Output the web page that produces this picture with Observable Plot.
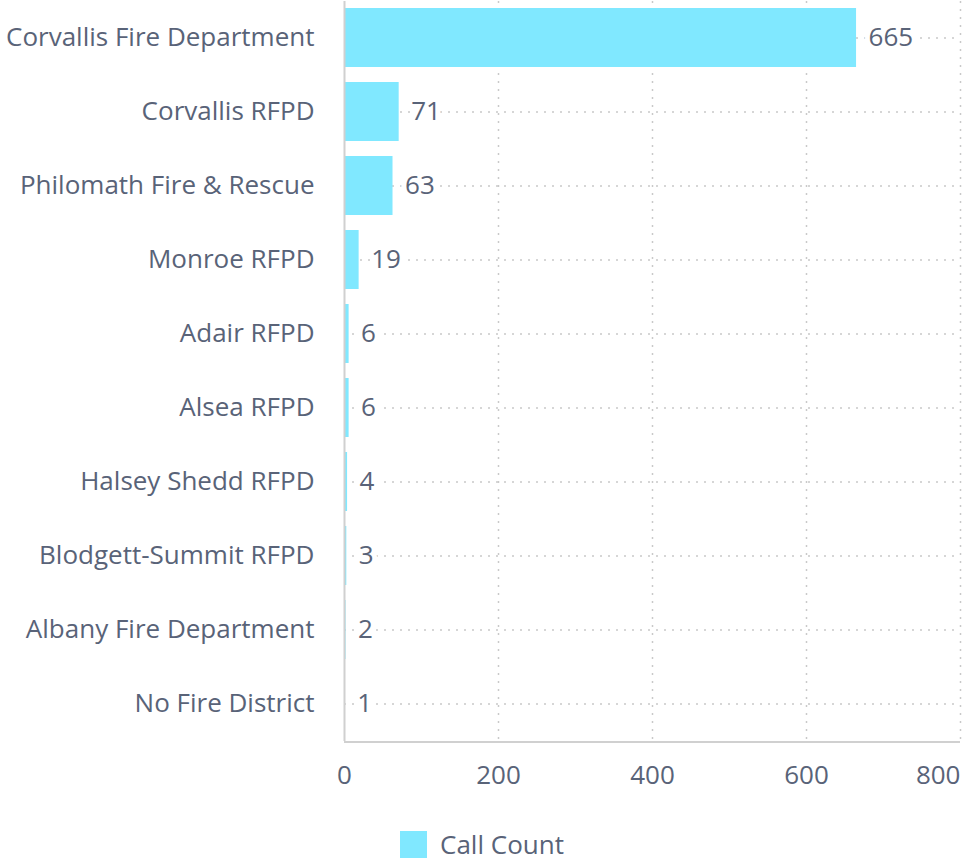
<!DOCTYPE html>
<html>
<head>
<meta charset="utf-8">
<script src="https://cdn.jsdelivr.net/npm/d3@7"></script>
<script src="https://cdn.jsdelivr.net/npm/@observablehq/plot@0.6"></script>
<style>
  html, body { margin: 0; padding: 0; background: #fff; }
  body { width: 964px; font-family: "Open Sans", sans-serif; color: #596378; }
  #legend { display: flex; justify-content: center; align-items: center; gap: 13px; margin-top: 27px; font-size: 26px; line-height: 35px; }
  #legend .sw { width: 27px; height: 27px; background: #80e8ff; }
</style>
</head>
<body>
<div id="chart"></div>
<div id="legend"><span class="sw"></span><span>Call Count</span></div>
<script>
const districts = ["Corvallis Fire Department", "Corvallis RFPD", "Philomath Fire & Rescue", "Monroe RFPD", "Adair RFPD", "Alsea RFPD", "Halsey Shedd RFPD", "Blodgett-Summit RFPD", "Albany Fire Department", "No Fire District"];
const callCounts = [665, 71, 63, 19, 6, 6, 4, 3, 2, 1];
const xTicks = [0, 200, 400, 600, 800];
const seriesName = "Call Count";

const data = districts.map((d, i) => ({district: d, count: callCounts[i]}));
const textColor = "#596378";
const gridColor = "#c9c9c9";

const chart = Plot.plot({
  width: 964,
  height: 800,
  marginTop: 1,
  marginBottom: 59,
  marginLeft: 344,
  marginRight: 4,
  style: {fontFamily: "'Open Sans', sans-serif", fontSize: "26px", color: textColor, background: "#fff"},
  x: {domain: [0, 800], axis: null, label: null},
  y: {domain: districts, paddingInner: 0.2, paddingOuter: 0.1, axis: null, label: null},
  marks: [
    Plot.gridX(xTicks.filter(t => t > 0), {stroke: gridColor, strokeOpacity: 1, strokeDasharray: "2,6", strokeWidth: 1.5}),
    Plot.gridY(districts, {stroke: gridColor, strokeOpacity: 1, strokeDasharray: "2,6", strokeWidth: 1.5}),
    Plot.barX(data, {x: "count", y: "district", fill: "#80e8ff"}),
    Plot.text(data, {x: "count", y: "district", text: d => String(d.count), textAnchor: "start", dx: 12, fill: textColor, stroke: "white", strokeWidth: 10, fontSize: 26}),
    Plot.ruleX([0], {stroke: "#d0d0d0", strokeWidth: 2}),
    Plot.ruleY([districts[districts.length - 1]], {stroke: "#d0d0d0", strokeWidth: 2, dy: 38}),
    Plot.axisY(districts, {tickSize: 0, tickPadding: 30, fill: textColor, fontSize: 26, label: null}),
    Plot.axisX(xTicks.slice(0, 4), {tickSize: 0, tickPadding: 24, fill: textColor, fontSize: 26, label: null, tickFormat: d => String(d)}),
    Plot.axisX(xTicks.slice(4), {tickSize: 0, tickPadding: 24, fill: textColor, fontSize: 26, label: null, textAnchor: "end", tickFormat: d => String(d)})
  ]
});
document.getElementById("chart").appendChild(chart);
</script>
</body>
</html>
